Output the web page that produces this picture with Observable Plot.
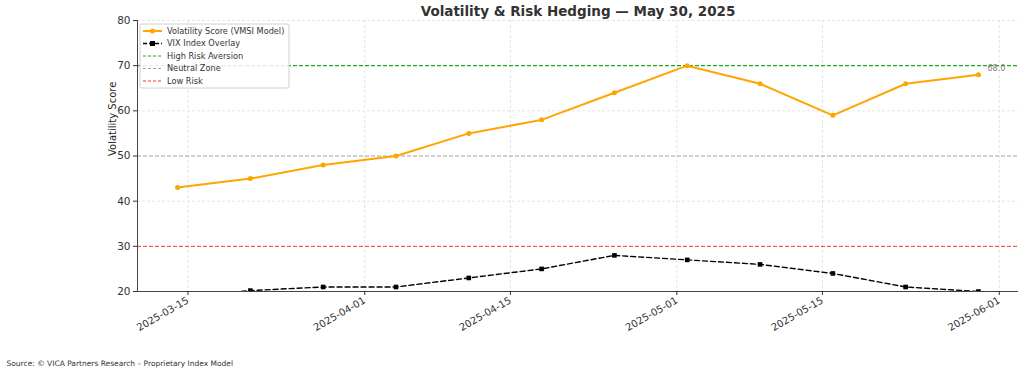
<!DOCTYPE html>
<html><head><meta charset="utf-8">
<script src="https://cdn.jsdelivr.net/npm/d3@7"></script>
<script src="https://cdn.jsdelivr.net/npm/@observablehq/plot@0.6"></script>
<style>body{margin:0;background:#fff;}</style>
</head><body><div id="chart"></div>
<script>
const titleText = "Volatility & Risk Hedging — May 30, 2025";
const sourceText = "Source: © VICA Partners Research – Proprietary Index Model";
const yLabel = "Volatility Score";
const dates = ["2025-03-14","2025-03-21","2025-03-28","2025-04-04","2025-04-11","2025-04-18","2025-04-25","2025-05-02","2025-05-09","2025-05-16","2025-05-23","2025-05-30"];
const vmsi = [43,45,48,50,55,58,64,70,66,59,66,68];
const vix = [18.5,20.2,21,21,23,25,28,27,26,24,21,20];
const thresholds = [70,50,30];
const thresholdLabels = ["High Risk Aversion","Neutral Zone","Low Risk"];
const thresholdColors = ["#1fa81f","#a0a0a0","#ff3030"];
const seriesLabels = ["Volatility Score (VMSI Model)","VIX Index Overlay"];
const xTicks = ["2025-03-15","2025-04-01","2025-04-15","2025-05-01","2025-05-15","2025-06-01"];
const yTicks = [20,30,40,50,60,70,80];

const parse = d3.utcParse("%Y-%m-%d");
const rows = dates.map((d,i)=>({date:parse(d), vmsi:vmsi[i], vix:vix[i]}));
const tickDates = xTicks.map(parse);
const t0 = rows[0].date, t1 = rows[rows.length-1].date;
const pad = (t1 - t0) * 0.05;
const xDomain = [new Date(+t0 - pad), new Date(+t1 + pad)];
const last = rows[rows.length-1];

const FONT = "DejaVu Sans";
const plot = Plot.plot({
  width: 1024, height: 374,
  marginLeft: 137, marginRight: 6, marginTop: 20, marginBottom: 83,
  style: {fontFamily: FONT, fontSize: "10px", color: "#333", background: "#fff"},
  x: {type: "utc", domain: xDomain},
  y: {domain: [20, 80]},
  marks: [
    Plot.gridX(tickDates, {stroke: "#e4e4e4", strokeOpacity: 1, strokeDasharray: "3,2"}),
    Plot.gridY(yTicks.filter(t => !thresholds.includes(t)), {stroke: "#e4e4e4", strokeOpacity: 1, strokeDasharray: "3,2"}),
    ...thresholds.map((t,i)=>Plot.ruleY([t], {stroke: thresholdColors[i], strokeOpacity: 1, strokeDasharray: "4,2", strokeWidth: i === 0 ? 1.3 : 1})),
    Plot.line(rows, {x: "date", y: "vix", stroke: "black", strokeWidth: 1.4, strokeDasharray: "5,3", clip: true}),
    Plot.dot(rows, {x: "date", y: "vix", symbol: "square", fill: "black", r: 2.6, clip: true}),
    Plot.line(rows, {x: "date", y: "vmsi", stroke: "#FFA500", strokeWidth: 2}),
    Plot.dot(rows, {x: "date", y: "vmsi", fill: "#FFA500", r: 2.5}),
    Plot.text([last], {x: "date", y: "vmsi", text: d => d.vmsi.toFixed(1), dx: 9, dy: -6, textAnchor: "start", fill: "gray", fontSize: 8}),
    Plot.ruleX([xDomain[0]], {stroke: "#444"}),
    Plot.ruleY([20], {stroke: "#444"}),
    Plot.axisY(yTicks, {label: null, tickSize: 4, tickPadding: 3, fontSize: 10.5}),
    Plot.axisX(tickDates, {label: null, tickSize: 4, tickPadding: 4, tickRotate: -30, tickFormat: d3.utcFormat("%Y-%m-%d"), fontSize: 10}),
    Plot.text([yLabel], {frameAnchor: "left", dx: -25, rotate: -90, fontSize: 10, lineAnchor: "middle", fill: "#222"}),
    Plot.text([titleText], {frameAnchor: "top", dy: -9, fontSize: 13.5, fontWeight: "bold", lineAnchor: "middle", fill: "#333"}),
    Plot.text([sourceText], {frameAnchor: "bottom-left", dx: -131, dy: 72, textAnchor: "start", lineAnchor: "middle", fontSize: 7.5, fill: "#333"})
  ]
});
document.getElementById("chart").appendChild(plot);

// Legend inside the frame
const svg = d3.select(plot);
const lg = svg.append("g").attr("transform", "translate(140,24)")
  .attr("font-family", FONT).attr("font-size", 8.2).attr("text-anchor", "start");
lg.append("rect").attr("width", 149).attr("height", 64).attr("rx", 2)
  .attr("fill", "white").attr("fill-opacity", 0.85).attr("stroke", "#d0d0d0");
const entries = [
  {label: seriesLabels[0], color: "#FFA500", dash: null, w: 2, marker: "circle", op: 1},
  {label: seriesLabels[1], color: "black", dash: "4,2", w: 1.4, marker: "square", op: 1},
  ...thresholdLabels.map((l,i)=>({label: l, color: thresholdColors[i], dash: "3,2", w: 1, marker: null, op: 1}))
];
entries.forEach((e,i)=>{
  const y = 7 + i*12.5;
  const ln = lg.append("line").attr("x1", 3).attr("x2", 22).attr("y1", y).attr("y2", y)
    .attr("stroke", e.color).attr("stroke-width", e.w).attr("stroke-opacity", e.op);
  if (e.dash) ln.attr("stroke-dasharray", e.dash);
  if (e.marker === "circle") lg.append("circle").attr("cx", 12.5).attr("cy", y).attr("r", 2.5).attr("fill", e.color);
  if (e.marker === "square") lg.append("rect").attr("x", 10).attr("y", y-2.5).attr("width", 5).attr("height", 5).attr("fill", e.color);
  lg.append("text").attr("x", 27).attr("y", y).attr("dy", "0.35em").attr("text-anchor", "start").attr("fill", "#333").text(e.label);
});
</script>
</body></html>
